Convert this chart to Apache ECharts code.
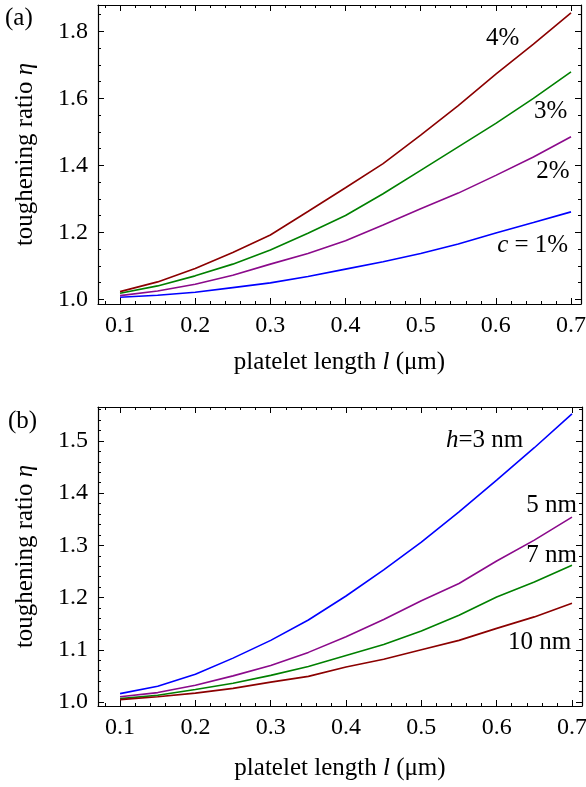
<!DOCTYPE html>
<html>
<head>
<meta charset="utf-8">
<script src="https://cdn.jsdelivr.net/npm/echarts@6/dist/echarts.min.js"></script>
<style>
  html, body { margin: 0; padding: 0; background: #fff; }
  #chart { width: 586px; height: 787px; }
</style>
</head>
<body>
<div id="chart"></div>
<script>
// platelet length l (μm)
const lengths = [0.1, 0.15, 0.2, 0.25, 0.3, 0.35, 0.4, 0.45, 0.5, 0.55, 0.6, 0.65, 0.7];

// (a) toughening ratio for platelet concentrations c
const conc1 = [1.006, 1.012, 1.021, 1.035, 1.049, 1.068, 1.090, 1.112, 1.137, 1.165, 1.198, 1.229, 1.261];
const conc2 = [1.011, 1.025, 1.045, 1.072, 1.105, 1.137, 1.175, 1.222, 1.270, 1.317, 1.370, 1.425, 1.485];
const conc3 = [1.018, 1.040, 1.070, 1.105, 1.147, 1.197, 1.250, 1.315, 1.385, 1.455, 1.525, 1.600, 1.679];
const conc4 = [1.023, 1.052, 1.092, 1.140, 1.192, 1.262, 1.333, 1.405, 1.490, 1.578, 1.672, 1.762, 1.855];

// (b) toughening ratio for platelet thicknesses h
const thick3 = [1.016, 1.030, 1.053, 1.084, 1.118, 1.157, 1.203, 1.253, 1.306, 1.364, 1.425, 1.487, 1.552];
const thick5 = [1.010, 1.018, 1.032, 1.050, 1.070, 1.095, 1.125, 1.158, 1.194, 1.227, 1.270, 1.310, 1.354];
const thick7 = [1.0065, 1.013, 1.024, 1.036, 1.051, 1.068, 1.089, 1.110, 1.136, 1.166, 1.201, 1.230, 1.262];
const thick10 = [1.0045, 1.010, 1.017, 1.026, 1.038, 1.049, 1.067, 1.082, 1.100, 1.118, 1.141, 1.163, 1.189];

// tick labels
const xTicks = [0.1, 0.2, 0.3, 0.4, 0.5, 0.6, 0.7];
const yTicksA = [1.0, 1.2, 1.4, 1.6, 1.8];
const yTicksB = [1.0, 1.1, 1.2, 1.3, 1.4, 1.5];

// curve labels
const labelsA = ['{i|c} = 1%', '2%', '3%', '4%'];
const labelsB = ['{i|h}=3 nm', '5 nm', '7 nm', '10 nm'];

const FONT = '"Liberation Serif", "Times New Roman", serif';
const TICK_SIZE = 24;
const TEXT_SIZE = 25;
const COLORS = { blue: '#0000ff', purple: '#8b0a8b', green: '#008000', red: '#8b0000' };

function steps(from, to, step) {
  const out = [];
  const n = Math.round((to - from) / step);
  for (let i = 0; i <= n; i++) out.push(+(from + i * step).toFixed(4));
  return out;
}

const xMinor = steps(0.08, 0.70, 0.02);
const yMinorA = steps(1.0, 1.85, 0.05);
const yMinorB = steps(1.0, 1.56, 0.02);

const X_RANGE = [0.0707, 0.7133];
const Y_RANGE_A = [0.986, 1.8785];
const Y_RANGE_B = [0.9923, 1.565];

const nameStyle = {
  fontFamily: FONT, fontSize: TEXT_SIZE, color: '#000',
  rich: { i: { fontFamily: FONT, fontSize: TEXT_SIZE, fontStyle: 'italic', color: '#000' } }
};

function xAxisDef(grid, pos, ticks, len, withLabels, withLine, name, gap) {
  return {
    type: 'value', gridIndex: grid, position: pos,
    min: X_RANGE[0], max: X_RANGE[1],
    axisLine: { show: withLine, onZero: false, lineStyle: { color: '#000', width: 1.2 } },
    axisTick: { show: true, inside: true, length: len, customValues: ticks, lineStyle: { color: '#000', width: 1 } },
    axisLabel: {
      show: withLabels, customValues: ticks, margin: 10,
      fontFamily: FONT, fontSize: TICK_SIZE, color: '#000',
      formatter: v => v.toFixed(1)
    },
    splitLine: { show: false },
    name: name || '', nameLocation: 'middle', nameGap: gap || 0, nameTextStyle: nameStyle
  };
}

function yAxisDef(grid, pos, range, ticks, len, withLabels, withLine, name) {
  return {
    type: 'value', gridIndex: grid, position: pos,
    min: range[0], max: range[1],
    axisLine: { show: withLine, onZero: false, lineStyle: { color: '#000', width: 1.2 } },
    axisTick: { show: true, inside: true, length: len, customValues: ticks, lineStyle: { color: '#000', width: 1 } },
    axisLabel: {
      show: withLabels, customValues: ticks, margin: 10,
      fontFamily: FONT, fontSize: TICK_SIZE, color: '#000',
      formatter: v => v.toFixed(1)
    },
    splitLine: { show: false },
    name: name || '', nameLocation: 'middle', nameGap: 60, nameTextStyle: nameStyle
  };
}

const xTitle = 'platelet length {i|l} (μm)';
const yTitle = 'toughening ratio {i|η}';
const xTitleGap = [46, 50];

const xAxes = [];
const yAxes = [];
[0, 1].forEach(g => {
  xAxes.push(xAxisDef(g, 'bottom', xTicks, 6, true, true, xTitle, xTitleGap[g]));
  xAxes.push(xAxisDef(g, 'bottom', xMinor, 3, false, false));
  xAxes.push(xAxisDef(g, 'top', xTicks, 6, false, true));
  xAxes.push(xAxisDef(g, 'top', xMinor, 3, false, false));
  const range = g === 0 ? Y_RANGE_A : Y_RANGE_B;
  const major = g === 0 ? yTicksA : yTicksB;
  const minor = g === 0 ? yMinorA : yMinorB;
  yAxes.push(yAxisDef(g, 'left', range, major, 6, true, true, yTitle));
  yAxes.push(yAxisDef(g, 'left', range, minor, 3, false, false));
  yAxes.push(yAxisDef(g, 'right', range, major, 6, false, true));
  yAxes.push(yAxisDef(g, 'right', range, minor, 3, false, false));
});

function line(values, color, grid) {
  return {
    type: 'line',
    xAxisIndex: grid * 4, yAxisIndex: grid * 4,
    data: lengths.map((x, i) => [x, values[i]]),
    showSymbol: false, symbol: 'none', smooth: false,
    lineStyle: { color: color, width: 1.6 },
    itemStyle: { color: color },
    z: 3, silent: true, animation: false
  };
}

const chart = echarts.init(document.getElementById('chart'), null, { renderer: 'canvas' });

chart.setOption({
  animation: false,
  backgroundColor: '#fff',
  grid: [
    { left: 98, top: 5, right: 5, bottom: 483, containLabel: false, outerBoundsMode: 'none' },
    { left: 98, top: 407, right: 4, bottom: 81, containLabel: false, outerBoundsMode: 'none' }
  ],
  xAxis: xAxes,
  yAxis: yAxes,
  series: [
    line(conc1, COLORS.blue, 0),
    line(conc2, COLORS.purple, 0),
    line(conc3, COLORS.green, 0),
    line(conc4, COLORS.red, 0),
    line(thick3, COLORS.blue, 1),
    line(thick5, COLORS.purple, 1),
    line(thick7, COLORS.green, 1),
    line(thick10, COLORS.red, 1)
  ]
});

// curve annotations placed in data coordinates of each panel
const annotA = [[0.649, 1.162], [0.676, 1.381], [0.673, 1.56], [0.609, 1.78]];
const annotB = [[0.584, 1.501], [0.673, 1.377], [0.673, 1.281], [0.657, 1.114]];

function textAt(grid, coord, text) {
  const p = chart.convertToPixel({ gridIndex: grid }, coord);
  return {
    type: 'text', x: p[0], y: p[1], z: 10,
    style: {
      text: text, fontFamily: FONT, fontSize: TEXT_SIZE, fill: '#000',
      align: 'center', verticalAlign: 'middle',
      rich: { i: { fontFamily: FONT, fontSize: TEXT_SIZE, fontStyle: 'italic', fill: '#000' } }
    }
  };
}

const graphics = [
  { type: 'text', x: 5, y: 6, style: { text: '(a)', fontFamily: FONT, fontSize: TEXT_SIZE, fill: '#000' } },
  { type: 'text', x: 8, y: 409, style: { text: '(b)', fontFamily: FONT, fontSize: TEXT_SIZE, fill: '#000' } }
];
annotA.forEach((c, i) => graphics.push(textAt(0, c, labelsA[i])));
annotB.forEach((c, i) => graphics.push(textAt(1, c, labelsB[i])));

chart.setOption({ graphic: graphics });
</script>
</body>
</html>
